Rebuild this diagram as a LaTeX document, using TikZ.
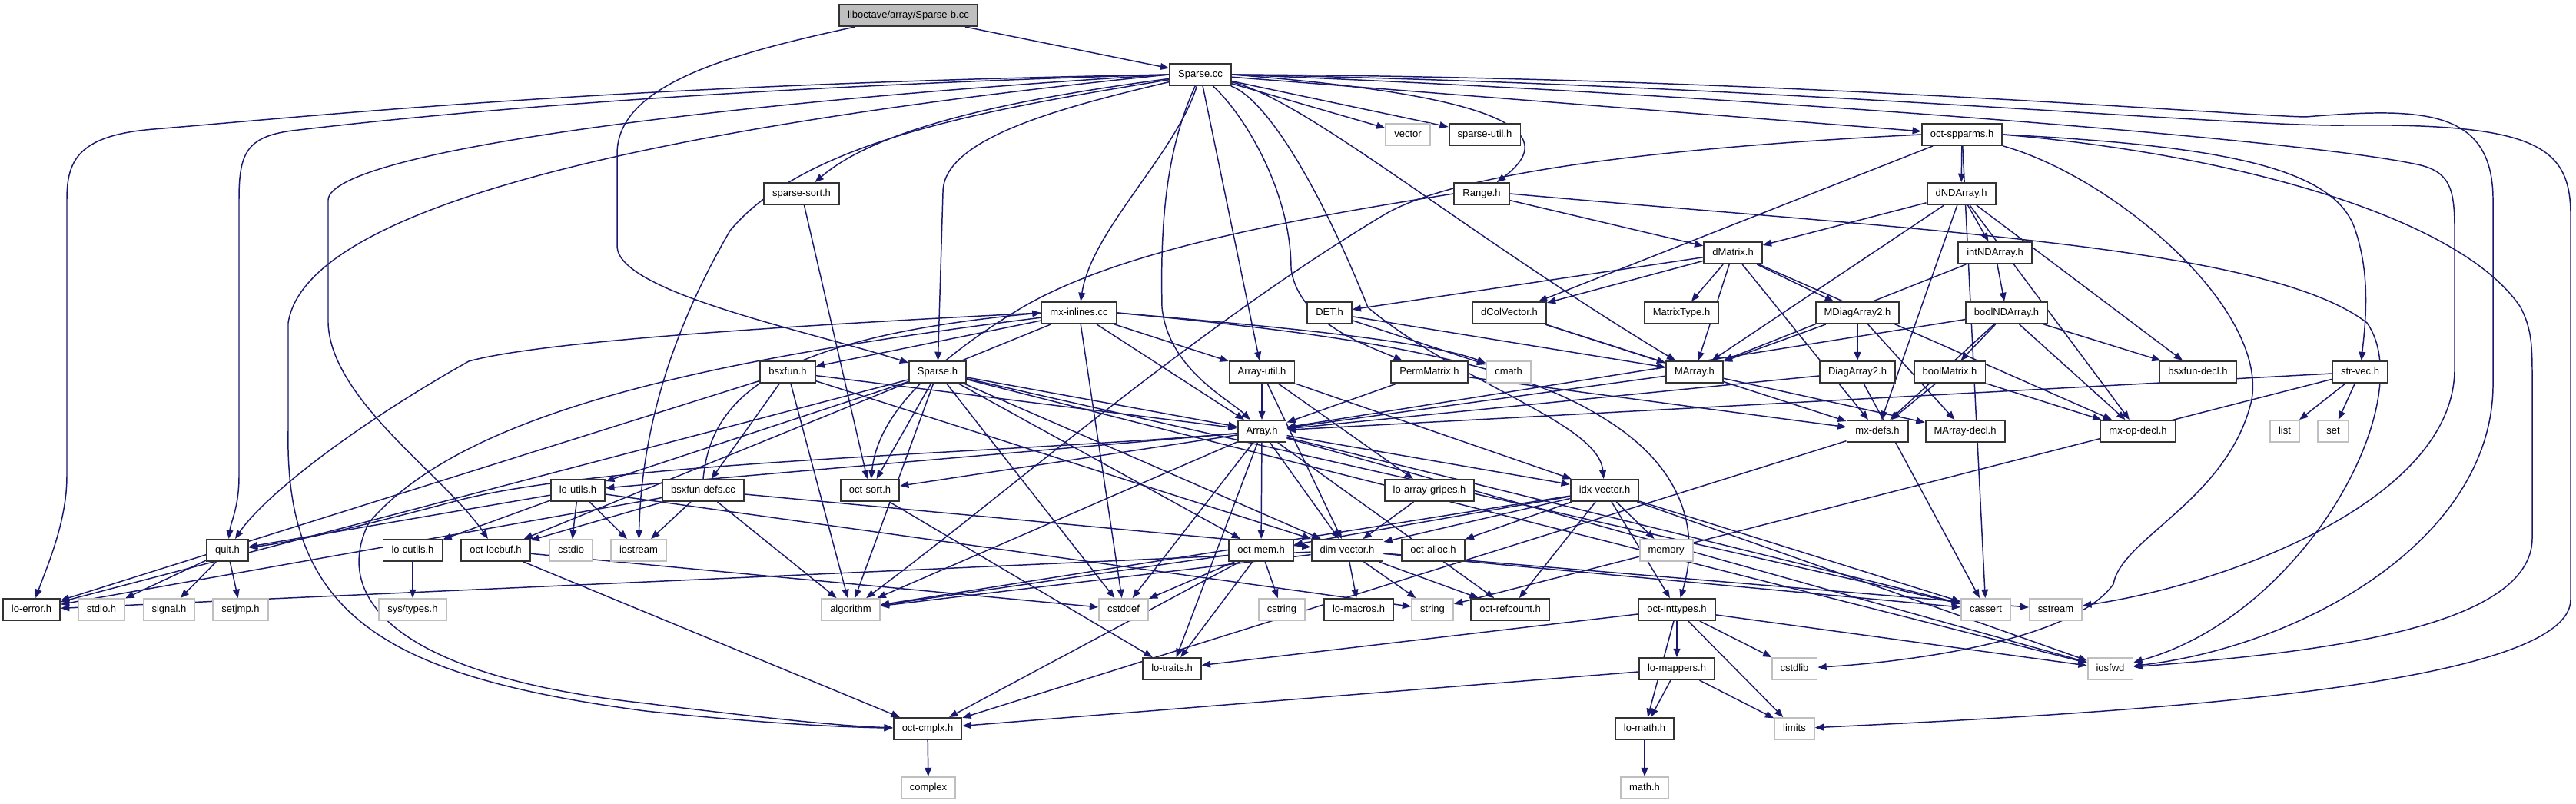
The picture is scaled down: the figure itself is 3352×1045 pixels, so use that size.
\documentclass[tikz,border=0pt]{standalone}
\usepackage{fontspec}
\setmainfont{Liberation Sans}
\usetikzlibrary{arrows.meta}
\definecolor{edgeblue}{HTML}{191970}
\definecolor{sysgray}{HTML}{BFBFBF}
\definecolor{rootfill}{HTML}{BFBFBF}
\pgfdeclarelayer{back}
\pgfdeclarelayer{bg}
\pgfsetlayers{back,bg,main}
\begin{document}
\begin{tikzpicture}[x=0.01cm,y=-0.01cm,
 base/.style={rectangle, minimum height=0.28cm, inner xsep=0.11cm, inner ysep=0pt,
   text height=2.7pt, text depth=0.75pt, font=\fontsize{3.7}{4}\selectfont, line width=0.55pt, fill=white},
 hdr/.style={base, draw=black!80},
 sys/.style={base, draw=sysgray},
 root/.style={base, draw=black!80, fill=rootfill},
 edg/.style={draw=edgeblue, line width=0.42pt, -{Triangle[length=3.2pt,width=2.5pt]}}]
\begin{pgfonlayer}{back}
\fill[white] (0,0) rectangle (3352,1045);
\end{pgfonlayer}
\useasboundingbox (0,0) rectangle (3352,1045);
% row 0-4
\node[root] (spb) at (1182,20) {liboctave/array/Sparse-b.cc};
\node[hdr] (spcc) at (1562,97) {Sparse.cc};
\node[sys] (vector) at (1832,175) {vector};
\node[hdr] (sputil) at (1932,175) {sparse-util.h};
\node[hdr] (spparms) at (2553,175) {oct-spparms.h};
\node[hdr] (spsort) at (1043,252) {sparse-sort.h};
\node[hdr] (range) at (1928,252) {Range.h};
\node[hdr] (dnd) at (2552,252) {dNDArray.h};
\node[hdr] (dmat) at (2255,329) {dMatrix.h};
\node[hdr] (intnd) at (2596,329) {intNDArray.h};
% row 5
\node[hdr] (mxinl) at (1404,407) {mx-inlines.cc};
\node[hdr] (det) at (1730,407) {DET.h};
\node[hdr] (dcol) at (1964,407) {dColVector.h};
\node[hdr] (mtype) at (2188,407) {MatrixType.h};
\node[hdr] (mdiag) at (2417,407) {MDiagArray2.h};
\node[hdr] (boolnd) at (2611,407) {boolNDArray.h};
% row 6
\node[hdr] (bsxfun) at (1025,484) {bsxfun.h};
\node[hdr] (sph) at (1220,484) {Sparse.h};
\node[hdr] (autil) at (1642,484) {Array-util.h};
\node[hdr] (perm) at (1860,484) {PermMatrix.h};
\node[sys] (cmath) at (1963,484) {cmath};
\node[hdr] (marray) at (2205,484) {MArray.h};
\node[hdr] (diag) at (2417,484) {DiagArray2.h};
\node[hdr] (boolmat) at (2537,484) {boolMatrix.h};
\node[hdr] (bsxdecl) at (2860,484) {bsxfun-decl.h};
\node[hdr] (strvec) at (3071,484) {str-vec.h};
% row 7
\node[hdr] (array) at (1642,561) {Array.h};
\node[hdr] (mxdefs) at (2443,561) {mx-defs.h};
\node[hdr] (marrdecl) at (2557,561) {MArray-decl.h};
\node[hdr] (mxop) at (2782,561) {mx-op-decl.h};
\node[sys] (list) at (2973,561) {list};
\node[sys] (set) at (3036,561) {set};
% row 8
\node[hdr] (loutils) at (752,638) {lo-utils.h};
\node[hdr] (bsxdefs) at (915,638) {bsxfun-defs.cc};
\node[hdr] (octsort) at (1132,638) {oct-sort.h};
\node[hdr] (gripes) at (1860,638) {lo-array-gripes.h};
\node[hdr] (idxv) at (2088,638) {idx-vector.h};
% row 9
\node[hdr] (quit) at (296,716) {quit.h};
\node[hdr] (locutils) at (537,716) {lo-cutils.h};
\node[hdr] (locbuf) at (645,716) {oct-locbuf.h};
\node[sys] (cstdio) at (743,716) {cstdio};
\node[sys] (iostream) at (831,716) {iostream};
\node[hdr] (octmem) at (1641,716) {oct-mem.h};
\node[hdr] (dimv) at (1753,716) {dim-vector.h};
\node[hdr] (octalloc) at (1865,716) {oct-alloc.h};
\node[sys] (memory) at (2168,716) {memory};
% row 10
\node[hdr] (loerr) at (41,793) {lo-error.h};
\node[sys] (stdioh) at (132,793) {stdio.h};
\node[sys] (signalh) at (220,793) {signal.h};
\node[sys] (setjmp) at (313,793) {setjmp.h};
\node[sys] (systypes) at (537,793) {sys/types.h};
\node[sys] (algorithm) at (1107,793) {algorithm};
\node[sys] (cstddef) at (1462,793) {cstddef};
\node[sys] (cstring) at (1668,793) {cstring};
\node[hdr] (lomacros) at (1768,793) {lo-macros.h};
\node[sys] (string) at (1864,793) {string};
\node[hdr] (refcount) at (1965,793) {oct-refcount.h};
\node[hdr] (inttypes) at (2182,793) {oct-inttypes.h};
\node[sys] (cassert) at (2584,793) {cassert};
\node[sys] (sstream) at (2675,793) {sstream};
% row 11-13
\node[hdr] (lotraits) at (1525,870) {lo-traits.h};
\node[hdr] (lomappers) at (2182,870) {lo-mappers.h};
\node[sys] (cstdlib) at (2335,870) {cstdlib};
\node[sys] (iosfwd) at (2746,870) {iosfwd};
\node[hdr] (cmplx) at (1207,948) {oct-cmplx.h};
\node[hdr] (lomath) at (2140,948) {lo-math.h};
\node[sys] (limits) at (2335,948) {limits};
\node[sys] (complex) at (1208,1025) {complex};
\node[sys] (mathh) at (2140,1025) {math.h};

\begin{pgfonlayer}{bg}
\foreach \a/\b in {spb/spcc,
 spcc/vector, spcc/sputil, spcc/spparms, spcc/autil,
 mxinl/bsxfun, mxinl/autil, mxinl/array, mxinl/cstddef, mxinl/locbuf,
 bsxfun/bsxdefs, bsxfun/array, bsxfun/dimv, bsxfun/algorithm, bsxfun/loerr,
 bsxdefs/dimv, bsxdefs/locbuf, bsxdefs/loerr, bsxdefs/iostream, bsxdefs/algorithm,
 sph/array, sph/dimv, sph/octsort, sph/octmem, sph/loutils, sph/loerr, sph/algorithm, sph/cstddef, sph/cassert, sph/iosfwd,
 autil/array, autil/idxv, autil/dimv, autil/gripes,
 perm/array, perm/mxdefs,
 array/loutils, array/octsort, array/idxv, array/dimv, array/octmem, array/lotraits, array/cstddef, array/algorithm, array/cassert, array/iosfwd, array/refcount,
 dmat/det, dmat/dcol, dmat/mtype, dmat/mdiag, dmat/marray, dmat/mxdefs, dmat/mxop,
 dnd/dmat, dnd/intnd, dnd/marray, dnd/mxdefs, dnd/mxop, dnd/bsxdecl,
 intnd/boolnd, intnd/marray,
 det/cmath, det/marray,
 dcol/marray, dcol/mxdefs,
 mdiag/diag, mdiag/marray, mdiag/marrdecl,
 diag/array, diag/cassert,
 boolnd/boolmat, boolnd/mxop, boolnd/bsxdecl, boolnd/array, boolnd/mxdefs,
 boolmat/mxdefs, boolmat/mxop,
 marray/array, marray/marrdecl,
 strvec/array, strvec/string, strvec/list, strvec/set,
 mxdefs/cmplx,
 gripes/dimv,
 idxv/dimv, idxv/octalloc, idxv/memory, idxv/inttypes, idxv/refcount, idxv/algorithm, idxv/cassert, idxv/iosfwd, idxv/octmem,
 octmem/cstddef, octmem/cstring, octmem/algorithm, octmem/lotraits, octmem/cmplx,
 dimv/lomacros, dimv/string, dimv/refcount, dimv/cassert, dimv/sstream, dimv/loerr, dimv/algorithm,
 loutils/quit, loutils/locutils, loutils/cstdio, loutils/iostream, loutils/string,
 locutils/systypes,
 quit/stdioh, quit/signalh, quit/setjmp,
 locbuf/cstddef, locbuf/cmplx,
 octsort/lotraits,
 inttypes/lomappers, inttypes/lomath, inttypes/cstdlib, inttypes/limits, inttypes/iosfwd, inttypes/lotraits,
 lomappers/lomath, lomappers/limits, lomappers/cmplx,
 lomath/mathh, cmplx/complex,
 spsort/octsort, range/dmat,
 spparms/dnd, spparms/dcol, spparms/cassert}
 {\draw[edg] (\a) -- (\b);}

% curved routes
\draw[edg] (spb) .. controls (950,70) and (803,110) .. (803,200) -- (803,320) .. controls (803,380) and (1050,430) .. (sph);
\draw[edg] (spcc.west) .. controls (800,110) and (420,150) .. (200,168) .. controls (100,176) and (87,210) .. (87,260) -- (87,620) .. controls (87,680) and (60,740) .. (loerr);
\draw[edg] (spcc.west) .. controls (900,115) and (550,150) .. (380,170) .. controls (320,178) and (311,200) .. (311,260) -- (311,620) .. controls (311,660) and (300,680) .. (quit);
\draw[edg] (spcc.west) .. controls (900,135) and (430,200) .. (427,260) -- (427,420) .. controls (430,520) and (580,620) .. (locbuf);
\draw[edg] (spcc.west) .. controls (900,160) and (400,260) .. (375,420) -- (375,560) .. controls (370,800) and (500,880) .. (840,925) .. controls (1000,942) and (1100,946) .. (cmplx);
\draw[edg] (spcc) .. controls (1300,140) and (1050,180) .. (950,300) .. controls (880,420) and (835,550) .. (iostream);
\draw[edg] (spcc) .. controls (1350,125) and (1150,160) .. (spsort);
\draw[edg] (spcc) .. controls (1380,140) and (1227,180) .. (1227,250) -- (sph);
\draw[edg] (spcc) .. controls (1530,200) and (1420,300) .. (mxinl);
\draw[edg] (spcc) .. controls (1515,200) and (1510,300) .. (1512,400) .. controls (1520,480) and (1600,520) .. (array);
\draw[edg] (spcc) .. controls (1620,150) and (1680,250) .. (1680,350) .. controls (1690,420) and (1780,450) .. (perm);
\draw[edg] (spcc) .. controls (1650,130) and (1720,250) .. (1780,400) .. controls (1900,500) and (2080,550) .. (idxv);
\draw[edg] (spcc) .. controls (1700,130) and (1900,300) .. (marray);
\draw[edg] (spcc.east) .. controls (1900,120) and (2050,160) .. (range);
\draw[edg] (spcc.east) .. controls (2200,120) and (3000,180) .. (3150,215) .. controls (3190,225) and (3194,250) .. (3194,300) -- (3194,480) .. controls (3194,650) and (2900,760) .. (sstream);
\draw[edg] (spcc.east) .. controls (2300,100) and (2900,150) .. (3000,152) .. controls (3150,140) and (3244,140) .. (3244,260) -- (3244,500) .. controls (3244,700) and (3000,840) .. (iosfwd);
\draw[edg] (spcc.east) .. controls (2300,110) and (2900,165) .. (3050,163) .. controls (3300,160) and (3345,190) .. (3345,280) -- (3345,780) .. controls (3345,900) and (2700,930) .. (limits);
\draw[edg] (spparms.east) .. controls (2900,190) and (3040,220) .. (3065,300) .. controls (3085,360) and (3078,420) .. (strvec);
\draw[edg] (spparms.east) .. controls (2900,200) and (3200,280) .. (3280,400) .. controls (3295,430) and (3295,450) .. (3295,500) -- (3295,700) .. controls (3295,820) and (3000,850) .. (iosfwd);
\draw[edg] (spparms) .. controls (2750,230) and (2950,400) .. (2930,520) .. controls (2900,650) and (2760,700) .. (2750,760) .. controls (2700,830) and (2500,860) .. (cstdlib);
\draw[edg] (spparms.west) .. controls (2200,190) and (1900,220) .. (1800,280) .. controls (1550,430) and (1300,650) .. (algorithm);
\draw[edg] (range.west) .. controls (1650,290) and (1450,330) .. (1330,400) .. controls (1180,490) and (1140,560) .. (octsort);
\draw[edg] (range.east) .. controls (2500,300) and (2950,320) .. (3080,420) .. controls (3150,520) and (3000,800) .. (iosfwd);
\draw[edg] (mxinl.west) .. controls (1000,425) and (700,445) .. (610,470) .. controls (450,560) and (340,650) .. (quit);
\draw[edg] (mxinl) .. controls (900,470) and (600,540) .. (480,680) .. controls (430,780) and (520,880) .. (840,915) .. controls (1000,935) and (1100,945) .. (cmplx);
\draw[edg] (mxinl.east) .. controls (1600,420) and (1850,440) .. (cmath);
\draw[edg] (mxinl.east) .. controls (1700,430) and (1950,460) .. (2080,540) .. controls (2200,610) and (2210,700) .. (inttypes);
\draw[edg] (bsxdefs.north) .. controls (925,520) and (1000,440) .. (mxinl.west);
\draw[edg] (array) .. controls (1300,590) and (800,600) .. (600,650) .. controls (450,690) and (380,705) .. (quit);
\end{pgfonlayer}
\end{tikzpicture}
\end{document}
